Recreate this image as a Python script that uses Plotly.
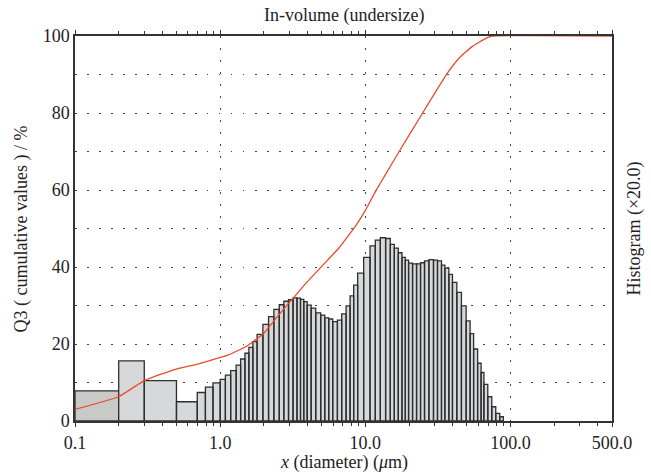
import plotly.graph_objects as go

# ---- data ----
bin_edges = [0.1, 0.2, 0.3, 0.5, 0.695, 0.791, 0.892, 1.0, 1.086, 1.181, 1.288, 1.383,
             1.481, 1.577, 1.680, 1.796, 1.969, 2.154, 2.343, 2.552, 2.745, 2.957, 3.176,
             3.382, 3.575, 3.766, 3.975, 4.236, 4.553, 4.928, 5.253, 5.596, 5.961, 6.420,
             6.872, 7.367, 7.849, 8.310, 8.852, 9.734, 10.77, 11.71, 12.68, 13.79, 14.85,
             15.83, 16.86, 17.88, 18.84, 19.85, 21.14, 22.53, 23.99, 25.56, 27.41, 29.47,
             31.40, 33.45, 35.30, 37.61, 39.81, 42.68, 45.90, 49.45, 52.67, 55.68, 59.33,
             62.70, 65.54, 69.71, 74.27, 79.12, 84.30, 89.21]
hist_values = [7.8, 15.6, 10.5, 5.0,
               7.4, 8.8, 9.9, 10.8, 11.9, 13.1, 14.5, 16.1, 17.6, 19.1, 20.6, 22.5,
               25.1, 27.1, 29.0, 30.2, 31.1, 31.5, 32.0, 31.9, 31.6, 31.0, 30.1, 29.3,
               28.1, 27.5, 26.8, 26.5, 25.8, 26.2, 27.8, 29.9, 32.5, 35.3, 38.4, 42.5,
               45.5, 47.0, 47.6, 47.4, 45.9, 44.9, 43.7, 42.5, 41.8, 41.0, 40.8, 40.8,
               41.1, 41.6, 41.9, 41.8, 41.6, 40.5, 39.7, 38.1, 36.0, 33.4, 29.9, 26.0,
               22.7, 18.7, 15.0, 12.6, 9.5, 6.3, 3.7, 2.0, 1.1]

cum_x = [0.1, 0.2, 0.3, 0.4, 0.5, 0.7, 1.0, 1.13, 1.5, 1.68, 2.0, 2.5, 3.0, 3.25, 3.9,
         5.1, 6.6, 8.65, 10.0, 11.7, 14.0, 17.1, 24.8, 36.8, 44.3, 54.6, 67.5, 75.0, 500.0]
cum_y = [3.0, 6.3, 10.5, 12.3, 13.5, 14.8, 16.5, 17.1, 19.3, 20.6, 22.8, 27.3, 30.8, 32.3, 35.8,
         40.5, 45.0, 50.9, 54.7, 59.5, 64.5, 70.0, 80.0, 90.4, 94.3, 97.3, 99.4, 100.0, 100.0]

x_tick_vals = [0.1, 1, 10, 100, 500]
x_tick_text = ["0.1", "1.0", "10.0", "100.0", "500.0"]
x_minor_vals = [0.2, 0.3, 0.4, 0.5, 0.6, 0.7, 0.8, 0.9,
                2, 3, 4, 5, 6, 7, 8, 9,
                20, 30, 40, 50, 60, 70, 80, 90,
                200, 300, 400]
y_tick_vals = [0, 10, 20, 30, 40, 50, 60, 70, 80, 90, 100]
y_tick_text = ["0", "", "20", "", "40", "", "60", "", "80", "", "100"]


def bar_polygons(edges, heights):
    xs, ys = [], []
    for i, h in enumerate(heights):
        a, b = edges[i], edges[i + 1]
        xs += [a, a, b, b, a, None]
        ys += [0, h, h, 0, 0, None]
    return xs, ys


FONT = "Liberation Serif"
FS = 18
fig = go.Figure()

# first (darker) bar
x0, y0 = bar_polygons(bin_edges[:2], hist_values[:1])
fig.add_trace(go.Scatter(x=x0, y=y0, mode="lines", fill="toself",
                         fillcolor="#c9cac8", line=dict(color="#2e2e2e", width=1.3),
                         hoverinfo="skip", showlegend=False))
# remaining bars
x1, y1 = bar_polygons(bin_edges[1:], hist_values[1:])
fig.add_trace(go.Scatter(x=x1, y=y1, mode="lines", fill="toself",
                         fillcolor="#d7d8da", line=dict(color="#2e2e2e", width=1.3),
                         hoverinfo="skip", showlegend=False))
# cumulative curve
fig.add_trace(go.Scatter(x=cum_x, y=cum_y, mode="lines",
                         line=dict(color="#ea4a2e", width=1.3, shape="spline", smoothing=0.3),
                         hoverinfo="skip", showlegend=False))

fig.update_layout(
    width=651, height=476,
    margin=dict(l=75, r=39, t=36, b=55),
    paper_bgcolor="white", plot_bgcolor="white",
    font=dict(family=FONT, size=FS, color="#222"),
    xaxis=dict(type="log", range=[-1, 2.69897],
               tickvals=x_tick_vals, ticktext=x_tick_text,
               ticks="outside", ticklen=4, tickcolor="#333",
               showgrid=True, gridcolor="#444", gridwidth=1, griddash="1.5px,10.5px",
               showline=True, linecolor="#333", linewidth=2, mirror="allticks",
               minor=dict(tickvals=x_minor_vals, ticks="outside", ticklen=3,
                          tickcolor="#333", showgrid=False),
               zeroline=False, tickfont=dict(family=FONT, size=FS)),
    yaxis=dict(range=[0, 100], tickvals=y_tick_vals, ticktext=y_tick_text,
               ticks="", showgrid=True, gridcolor="#444", gridwidth=1,
               griddash="1.5px,10.5px",
               showline=True, linecolor="#333", linewidth=1.5, mirror=True,
               zeroline=False, tickfont=dict(family=FONT, size=FS)),
    annotations=[
        dict(text="In-volume (undersize)", xref="paper", yref="paper",
             x=0.5, y=1.0545, xanchor="center", yanchor="middle", showarrow=False,
             font=dict(family=FONT, size=FS)),
        dict(text="<i>x</i> (diameter) (<i>μ</i>m)", xref="paper", yref="paper",
             x=0.5, y=-0.109, xanchor="center", yanchor="middle", showarrow=False,
             font=dict(family=FONT, size=FS)),
        dict(text="Q3 ( cumulative values ) / %", xref="paper", yref="paper",
             x=-0.0987, y=0.5, xanchor="center", yanchor="middle", showarrow=False,
             textangle=-90, font=dict(family=FONT, size=FS)),
        dict(text="Histogram (×20.0)", xref="paper", yref="paper",
             x=1.041, y=0.5, xanchor="center", yanchor="middle", showarrow=False,
             textangle=-90, font=dict(family=FONT, size=FS)),
    ],
)

fig.write_html("out.html", config={"displayModeBar": False},
               post_script="document.body.style.margin='0';document.body.style.overflow='hidden';")
